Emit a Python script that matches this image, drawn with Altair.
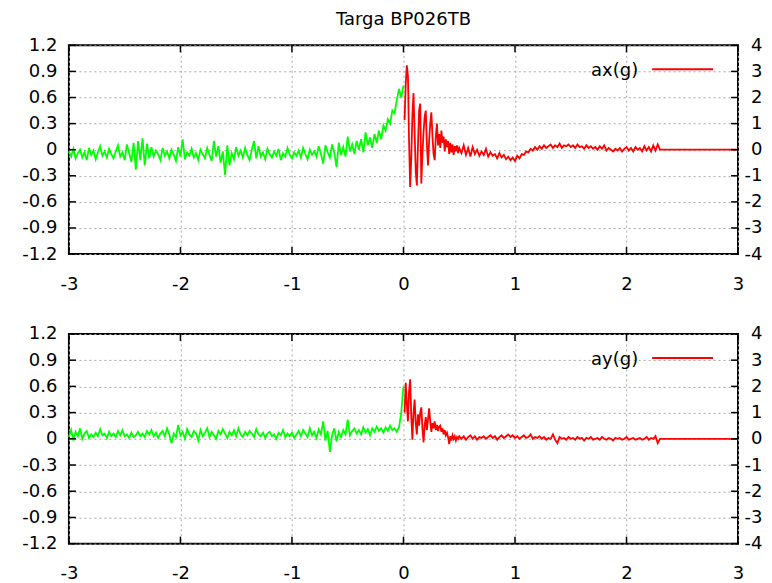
import altair as alt
import pandas as pd
import numpy as np

TITLE = "Targa BP026TB"
X_TICKS = [-3, -2, -1, 0, 1, 2, 3]
LEFT_TICKS = [-1.2, -0.9, -0.6, -0.3, 0, 0.3, 0.6, 0.9, 1.2]
RIGHT_TICKS = [-4, -3, -2, -1, 0, 1, 2, 3, 4]

# sample grids (s)
green_t = list(np.round(np.arange(-3.0, 0.0001, 0.02), 2))            # 151 samples
red_t = list(np.round(np.arange(0.01, 0.5001, 0.01), 2)) + \
        list(np.round(np.arange(0.52, 2.3001, 0.02), 2))                # 140 samples
tail_t = [3.00]
tail_v = [0.0]

# ---- ax(g) ----
ax_green = [
    -0.02, -0.08, 0.01, -0.10, -0.04, 0.00, -0.09, -0.03, -0.12, 0.02,
    -0.06, -0.01, -0.11, -0.03, 0.04, -0.07, -0.02, -0.09, 0.01, -0.05,
    -0.10, -0.02, 0.05, -0.08, -0.03, -0.12, 0.06, -0.04, -0.14, 0.08,
    -0.23, 0.10, -0.12, 0.13, -0.18, 0.07, -0.10, 0.03, -0.08, -0.01,
    -0.05, -0.12, 0.02, -0.07, -0.02, -0.10, 0.00, -0.06, -0.13, 0.03,
    -0.08, 0.12, -0.11, -0.03, -0.07, 0.01, -0.09, -0.04, -0.12, 0.00,
    -0.05, -0.10, 0.02, -0.06, -0.13, 0.10, -0.08, 0.04, -0.15, -0.02,
    -0.29, 0.05, -0.18, -0.04, -0.11, 0.03, -0.07, -0.01, -0.09, 0.02,
    -0.06, -0.12, 0.00, 0.10, -0.10, 0.04, -0.08, -0.03, -0.11, 0.01,
    -0.05, -0.09, -0.02, -0.07, 0.01, -0.12, -0.04, -0.08, 0.02, -0.06,
    -0.10, -0.03, -0.07, -0.01, -0.09, 0.02, -0.05, -0.11, 0.00, -0.06,
    -0.02, -0.08, 0.04, -0.05, -0.16, 0.05, -0.03, -0.09, 0.06, -0.04,
    -0.20, 0.08, -0.06, 0.03, -0.08, 0.15, -0.02, 0.06, -0.05, 0.10,
    0.00, 0.12, -0.03, 0.20, 0.05, 0.14, 0.02, 0.18, 0.08, 0.22,
    0.12, 0.28, 0.22, 0.35, 0.30, 0.45, 0.42, 0.57, 0.70, 0.60,
    0.74,
]
ax_red = [
    0.34, 0.75, 0.97, 0.85, 0.10, -0.43, -0.10, 0.40, 0.65, 0.20,
    -0.25, -0.41, 0.05, 0.45, 0.53, -0.39, -0.05, 0.20, 0.38, 0.45,
    0.05, -0.18, 0.10, 0.30, 0.43, 0.15, -0.05, -0.12, 0.15, 0.30,
    0.05, 0.18, 0.02, 0.22, 0.08, 0.15, -0.02, 0.12, 0.03, 0.10,
    -0.05, 0.08, -0.03, 0.06, -0.06, 0.04, -0.02, 0.05, -0.04, 0.02,
    -0.04, 0.05, -0.06, 0.02, -0.08, 0.03, -0.05, 0.00, -0.07, -0.02,
    -0.06, 0.01, -0.08, -0.03, -0.07, -0.05, -0.10, -0.04, -0.09, -0.06,
    -0.11, -0.08, -0.12, -0.09, -0.13, -0.07, -0.10, -0.05, -0.06, -0.02,
    -0.03, 0.01, -0.01, 0.03, 0.00, 0.04, 0.01, 0.05, 0.02, 0.04,
    0.06, 0.02, 0.05, 0.03, 0.07, 0.02, 0.05, 0.04, 0.06, 0.03,
    0.05, 0.02, 0.06, 0.03, 0.04, 0.01, 0.05, 0.02, 0.04, 0.01,
    0.03, 0.00, 0.04, 0.01, 0.05, -0.01, 0.02, 0.00, -0.02, 0.01,
    -0.01, 0.02, -0.02, 0.01, 0.03, -0.01, 0.02, -0.02, 0.03, 0.00,
    0.02, -0.02, 0.04, -0.01, 0.03, -0.02, 0.05, -0.01, 0.06, 0.00,
]

# ---- ay(g) ----
ay_green = [
    0.02, 0.10, -0.02, 0.08, 0.03, 0.12, 0.00, 0.06, 0.09, 0.01,
    0.05, 0.02, 0.07, 0.03, 0.11, 0.04, 0.06, 0.01, 0.08, 0.03,
    0.06, 0.02, 0.09, 0.04, 0.10, 0.03, 0.05, 0.01, 0.07, 0.02,
    0.04, 0.08, 0.03, 0.06, 0.02, 0.09, 0.05, 0.10, 0.03, 0.07,
    0.01, 0.06, 0.09, 0.03, 0.12, 0.05, -0.05, 0.06, 0.02, 0.16,
    0.04, 0.08, 0.00, 0.11, 0.05, 0.02, 0.09, 0.06, -0.02, 0.10,
    0.03, 0.07, 0.12, 0.02, 0.08, 0.04, 0.00, 0.09, 0.05, 0.11,
    0.06, 0.01, 0.08, 0.04, 0.10, 0.03, 0.12, 0.05, 0.02, 0.08,
    0.04, 0.09, 0.06, 0.02, 0.11, 0.05, 0.03, 0.07, 0.01, 0.06,
    0.08, 0.03, 0.05, 0.00, 0.07, 0.04, 0.10, 0.02, 0.06, 0.03,
    0.07, 0.01, 0.05, 0.09, 0.03, 0.10, 0.06, 0.02, 0.12, 0.04,
    0.08, 0.01, 0.11, 0.05, 0.20, -0.02, 0.09, -0.15, 0.04, 0.12,
    -0.03, 0.08, 0.02, 0.10, 0.05, 0.22, 0.04, 0.09, 0.12, 0.06,
    0.10, 0.05, 0.13, 0.07, 0.11, 0.04, 0.12, 0.08, 0.14, 0.09,
    0.12, 0.07, 0.13, 0.09, 0.15, 0.10, 0.12, 0.08, 0.13, 0.30,
    0.60,
]
ay_red = [
    0.30, 0.64, 0.40, 0.20, 0.55, 0.68, 0.25, -0.01, 0.30, 0.45,
    0.18, 0.05, 0.28, 0.15, 0.30, 0.36, 0.12, -0.04, 0.15, 0.25,
    0.10, 0.22, 0.35, 0.20, 0.08, 0.18, 0.12, 0.20, 0.10, 0.16,
    0.09, 0.14, 0.15, 0.08, 0.12, 0.05, 0.10, 0.04, 0.07, 0.02,
    -0.06, 0.03, -0.02, 0.04, 0.00, 0.03, -0.02, 0.02, 0.00, 0.03,
    0.00, 0.03, -0.01, 0.02, 0.04, 0.00, 0.03, -0.01, 0.02, 0.01,
    0.03, 0.00, 0.02, 0.04, 0.01, 0.03, -0.01, 0.02, 0.04, 0.01,
    0.03, 0.05, 0.02, 0.04, 0.01, 0.03, 0.00, 0.02, 0.04, 0.01,
    0.02, 0.05, 0.00, 0.02, 0.01, 0.03, 0.00, 0.02, -0.01, 0.01,
    0.00, 0.05, -0.01, -0.05, 0.02, 0.00, 0.01, -0.01, 0.02, 0.00,
    0.01, -0.01, 0.02, 0.00, 0.01, -0.02, 0.01, 0.00, 0.02, -0.01,
    0.00, 0.01, -0.01, 0.02, 0.00, -0.01, 0.01, 0.00, -0.02, 0.01,
    0.00, 0.01, -0.01, 0.00, 0.02, -0.01, 0.00, 0.01, -0.01, 0.00,
    0.01, -0.01, 0.00, 0.02, -0.01, 0.01, 0.00, 0.03, -0.05, 0.00,
]

W = 670
FONT = "DejaVu Sans"
FS = 18
GRID = dict(grid=True, gridColor="#a8a8a8", gridDash=[2, 3], gridWidth=1)

xscale = alt.Scale(domain=[-3, 3], nice=False, zero=False)
yscale = alt.Scale(domain=[-1.2, 1.2], nice=False, zero=False)
rscale = alt.Scale(domain=[-4, 4], nice=False, zero=False)

INT_LABEL = "'' + datum.value"
DEC_LABEL = ("datum.value == 0 ? '0' : (datum.value < 0 ? '-' + format(-datum.value, '.1f') "
             ": format(datum.value, '.1f'))")

x_axis = alt.Axis(values=X_TICKS, title=None, ticks=False, domain=False, labelPadding=21,
                  minExtent=36, maxExtent=36, labelOverlap=False, labelFlush=False,
                  labelExpr=INT_LABEL, **GRID)
y_axis = alt.Axis(values=LEFT_TICKS, title=None, ticks=False, domain=False, labelPadding=12,
                  minExtent=55, maxExtent=55, labelOverlap=False, labelFlush=False,
                  labelExpr=DEC_LABEL, **GRID)
r_axis = alt.Axis(values=RIGHT_TICKS, title=None, ticks=False, domain=False, orient="right",
                  labelPadding=24, labelAlign="right", minExtent=25, maxExtent=25,
                  labelOverlap=False, labelFlush=False, grid=False, labelExpr=INT_LABEL)


def panel(gv, rv, label, h, title=None):
    g = pd.DataFrame({"t": green_t, "v": gv})
    r = pd.DataFrame({"t": red_t + tail_t, "v": rv + tail_v})
    xt = pd.DataFrame({"xt": X_TICKS})
    lt = pd.DataFrame({"lt": LEFT_TICKS})
    rt = pd.DataFrame({"rt": RIGHT_TICKS})
    one = alt.Data(values=[{"k": 1}])

    X = lambda f: alt.X(f, scale=xscale, axis=x_axis)
    Y = lambda f: alt.Y(f, scale=yscale, axis=y_axis)

    top_ticks = alt.Chart(xt).mark_rule(color="black", strokeWidth=1.5).encode(
        x=X("xt:Q"), y=alt.value(0), y2=alt.value(7))
    bot_ticks = alt.Chart(xt).mark_rule(color="black", strokeWidth=1.5).encode(
        x=X("xt:Q"), y=alt.value(h - 7), y2=alt.value(h))
    left_ticks = alt.Chart(lt).mark_rule(color="black", strokeWidth=1.5).encode(
        y=Y("lt:Q"), x=alt.value(0), x2=alt.value(7))
    green = alt.Chart(g).mark_line(color="#00ff00", strokeWidth=1.8).encode(x=X("t:Q"), y=Y("v:Q"))
    red = alt.Chart(r).mark_line(color="#ff0000", strokeWidth=1.8).encode(x=X("t:Q"), y=Y("v:Q"))
    leg_line = alt.Chart(one).mark_rule(color="#ff0000", strokeWidth=2).encode(
        x=alt.value(584), x2=alt.value(645), y=alt.value(24))
    leg_text = alt.Chart(one).mark_text(text=label, align="right", baseline="middle",
                                        font=FONT, fontSize=FS, color="black").encode(
        x=alt.value(570), y=alt.value(26))
    left = alt.layer(green, red, top_ticks, bot_ticks, left_ticks, leg_line, leg_text)

    right = alt.Chart(rt).mark_rule(color="black", strokeWidth=1.5).encode(
        y=alt.Y("rt:Q", scale=rscale, axis=r_axis), x=alt.value(W - 7), x2=alt.value(W))

    ch = alt.layer(left, right).resolve_scale(y="independent")
    if title:
        ch = ch.properties(width=W, height=h,
                           title=alt.TitleParams(title, font=FONT, fontSize=FS, fontWeight="normal",
                                                 anchor="middle", frame="group", offset=7,
                                                 color="black"))
    else:
        ch = ch.properties(width=W, height=h)
    return ch


top = panel(ax_green, ax_red, "ax(g)", 209, TITLE)
bottom = panel(ay_green, ay_red, "ay(g)", 210)

chart = alt.vconcat(top, bottom, spacing=30).properties(
    padding={"left": 5, "top": 2, "right": 0, "bottom": 0}
).configure_view(stroke="black", strokeWidth=2).configure_axis(
    labelFont=FONT, labelFontSize=FS, labelColor="black"
)

chart.save("out.html", embed_options={"renderer": "svg", "actions": False})
